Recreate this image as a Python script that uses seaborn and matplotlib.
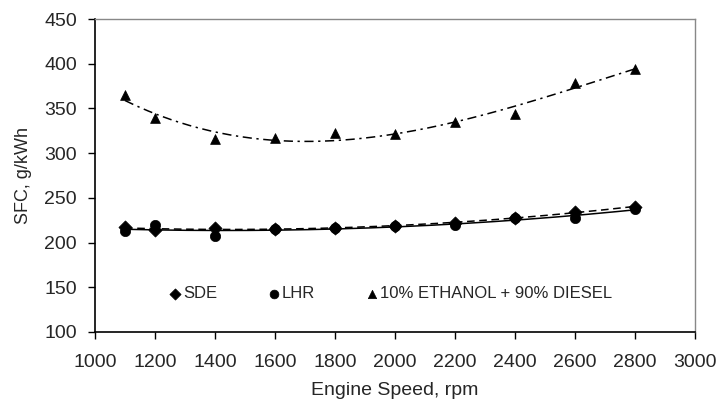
import numpy as np
import pandas as pd
import matplotlib
matplotlib.use("Agg")
import matplotlib.pyplot as plt
import seaborn as sns

speed = [1100, 1200, 1400, 1600, 1800, 2000, 2200, 2400, 2600, 2800]
sde = [217, 214, 216, 215, 216, 219, 222, 228, 234, 240]
lhr = [213, 220, 207, 215, 216, 219, 220, 227, 227, 238]
ethanol = [365, 339, 316, 317, 322, 321, 335, 344, 378, 394]

x_ticks = [1000, 1200, 1400, 1600, 1800, 2000, 2200, 2400, 2600, 2800, 3000]
y_ticks = [100, 150, 200, 250, 300, 350, 400, 450]

sns.set_theme(style="white")
plt.rcParams['font.family'] = ['Liberation Sans', 'DejaVu Sans']

fig = plt.figure(figsize=(7.19, 4.07), dpi=100)
ax = fig.add_axes([95/719, 1 - 332/407, 600/719, 313/407])

names = ["SDE", "LHR", "10% ETHANOL + 90% DIESEL"]
series = [sde, lhr, ethanol]
markers = ["D", "o", "^"]
msizes = [45, 55, 50]
lstyles = [(0, (5, 3)), "-", (0, (6, 3, 1.5, 3))]
orders = [2, 2, 3]

grid = np.linspace(speed[0], speed[-1], 200)
for name, vals, mk, ms, ls, od in zip(names, series, markers, msizes, lstyles, orders):
    coef = np.polyfit(speed, vals, od)
    fit = pd.DataFrame({"x": grid, "y": np.polyval(coef, grid)})
    sns.lineplot(data=fit, x="x", y="y", ax=ax, color="black", lw=1.1,
                 linestyle=ls, legend=False)
    df = pd.DataFrame({"x": speed, "y": vals})
    sns.scatterplot(data=df, x="x", y="y", ax=ax, marker=mk, s=ms,
                    color="black", edgecolor="black", linewidth=0.5,
                    label=name, zorder=3)

ax.set_xlim(1000, 3000)
ax.set_ylim(100, 450)
ax.set_xticks(x_ticks)
ax.set_yticks(y_ticks)
ax.tick_params(axis="both", labelsize=14, direction="out", length=5,
               width=1, color="black", left=True, bottom=True)
ax.tick_params(axis="x", pad=11)
ax.tick_params(axis="y", pad=8)
ax.set_xlabel("Engine Speed, rpm", fontsize=14, labelpad=8)
ax.set_ylabel("SFC, g/kWh", fontsize=13, labelpad=9)

for side in ["left", "bottom"]:
    ax.spines[side].set_color("black")
    ax.spines[side].set_linewidth(1.2)
for side in ["top", "right"]:
    ax.spines[side].set_color("#888888")
    ax.spines[side].set_linewidth(1.0)

leg = ax.legend(loc="center", bbox_to_anchor=(0.492, 0.122), ncol=3,
                frameon=False, fontsize=12, handletextpad=0.1,
                handlelength=0.8, columnspacing=3.0, markerscale=0.85)

fig.savefig("out.png", dpi=100)
